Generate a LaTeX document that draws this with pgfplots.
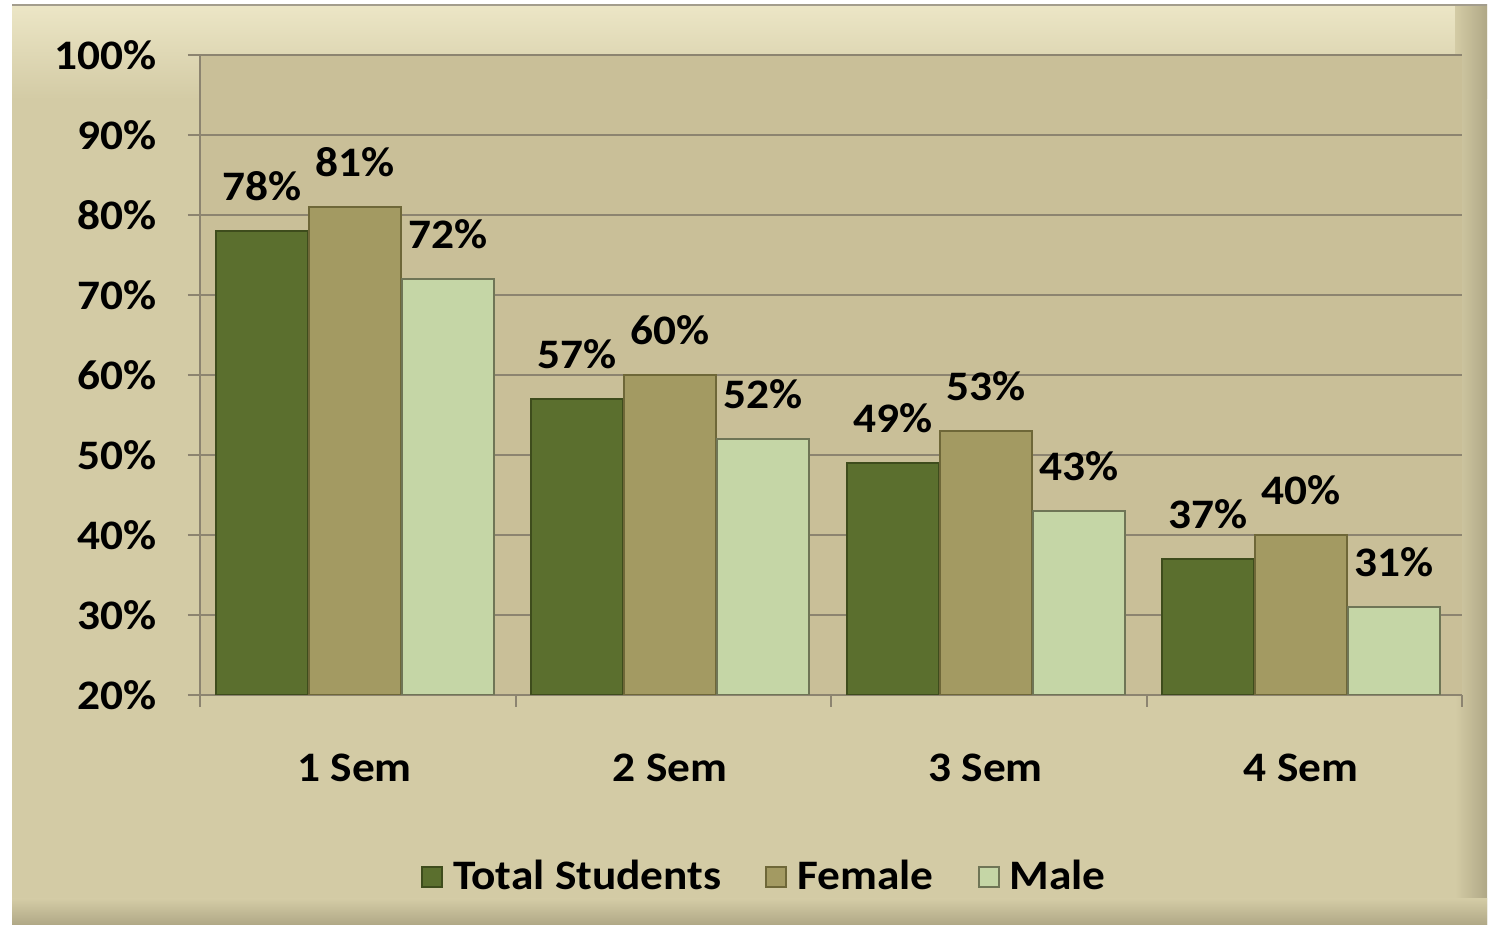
\documentclass[border=0pt]{standalone}
\usepackage{pgfplots}
\pgfplotsset{compat=1.18}
\usepackage{fontspec}
\setmainfont[FakeStretch=1.08]{Carlito}
\definecolor{frameBg}{HTML}{D3CBA5}
\definecolor{frameTop}{HTML}{ECE6C6}
\definecolor{frameDark}{HTML}{B0A886}
\definecolor{plotBg}{HTML}{C9BF98}
\definecolor{gridC}{HTML}{8C8470}
\definecolor{cTotal}{HTML}{5B6F2E}
\definecolor{cTotalE}{HTML}{3E4C1C}
\definecolor{cFemale}{HTML}{A39A62}
\definecolor{cFemaleE}{HTML}{6E6738}
\definecolor{cMale}{HTML}{C5D6A6}
\definecolor{cMaleE}{HTML}{6F7556}
\begin{document}
\begin{tikzpicture}[x=0.5pt,y=0.5pt]
\useasboundingbox (0,0) rectangle (1495,929);
\fill[white] (0,0) rectangle (1495,929);
\fill[frameBg] (12,4) rectangle (1487,924);
\shade[top color=frameTop, bottom color=frameBg] (12,830) rectangle (1487,924);
\shade[left color=frameBg, right color=frameDark] (1455,4) rectangle (1487,924);
\shade[top color=frameBg, bottom color=frameDark] (12,4) rectangle (1487,30);
\draw[gridC!80, line width=1pt] (12,924) -- (1487,924);
\begin{axis}[
  at={(100pt,117pt)}, anchor=south west,
  scale only axis, width=631pt, height=320pt,
  ybar=0.5pt, bar width=46pt,
  xmin=-0.49, xmax=3.51, ymin=20, ymax=100,
  xtick={0,1,2,3}, xticklabels={1 Sem,2 Sem,3 Sem,4 Sem},
  minor xtick={-0.49,0.51,1.51,2.51,3.51},
  ytick={20,30,...,100},
  yticklabel={\pgfmathprintnumber{\tick}\%},
  /pgf/number format/assume math mode=true,
  ticklabel style={font=\fontsize{21}{23}\selectfont\bfseries, text=black},
  xticklabel style={yshift=-20pt},
  yticklabel style={xshift=-12pt},
  tick align=outside, tick pos=left,
  major x tick style={draw=none},
  minor tick length=6pt, major tick length=6pt,
  every tick/.style={gridC, line width=1pt},
  axis line style={gridC, line width=1pt},
  axis x line*=bottom, axis y line*=left,
  ymajorgrids, grid style={gridC, line width=1pt},
  axis background/.style={fill=plotBg},
  nodes near coords={\pgfmathprintnumber{\pgfplotspointmeta}\%},
  nodes near coords style={font=\fontsize{21}{23}\selectfont\bfseries, text=black, anchor=south, yshift=11pt},
  legend style={at={(0.448,-0.284)}, anchor=center, draw=none, fill=none,
    font=\fontsize{21}{23}\selectfont\bfseries, legend columns=3,
    /tikz/every even column/.append style={column sep=20pt},
    /tikz/every odd column/.append style={column sep=3pt}},
  legend image code/.code={\draw[#1] (0pt,-5pt) rectangle (10pt,5pt);},
]
\addplot[fill=cTotal, draw=cTotalE, line width=1pt] coordinates {(0,78) (1,57) (2,49) (3,37)};
\addplot[fill=cFemale, draw=cFemaleE, line width=1pt] coordinates {(0,81) (1,60) (2,53) (3,40)};
\addplot[fill=cMale, draw=cMaleE, line width=1pt] coordinates {(0,72) (1,52) (2,43) (3,31)};
\legend{Total Students, Female, Male}
\end{axis}
\end{tikzpicture}
\end{document}
